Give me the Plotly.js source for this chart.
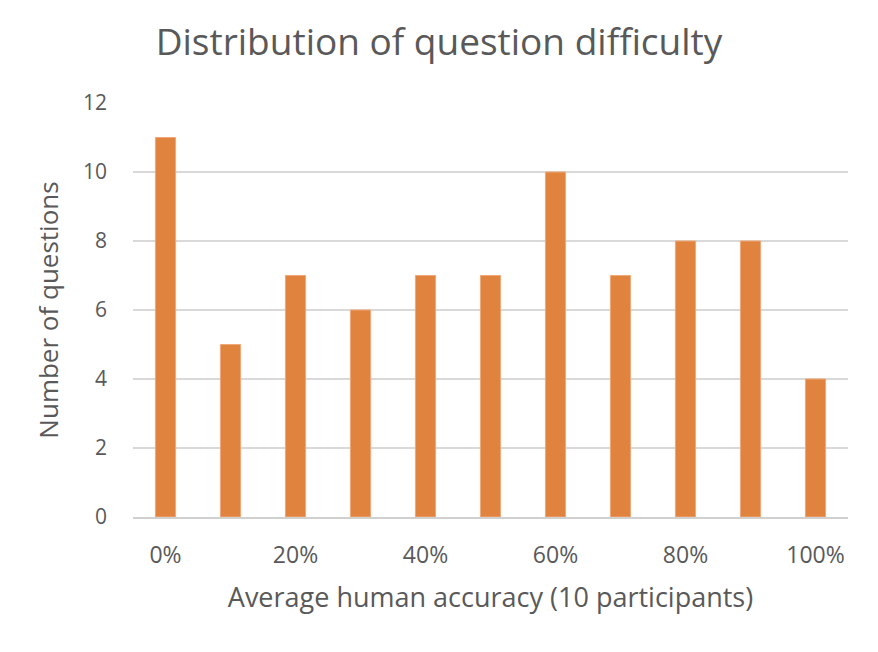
<!DOCTYPE html>
<html><head><meta charset="utf-8">
<script src="https://cdn.plot.ly/plotly-3.0.1.min.js"></script>
<style>html,body{margin:0;padding:0;background:#fff;}#chart{width:878px;height:652px;}</style>
</head><body><div id="chart"></div>
<script>
const categories = ["0%","10%","20%","30%","40%","50%","60%","70%","80%","90%","100%"];
const counts = [11,5,7,6,7,7,10,7,8,8,4];
const tickLabels = ["0%","20%","40%","60%","80%","100%"];
const yTicks = [0,2,4,6,8,10,12];

Plotly.newPlot('chart', [{
  type: 'bar', x: categories, y: counts,
  marker: {color: '#E0833F', line: {color: '#F0A878', width: 1}},
  width: 0.31, hoverinfo: 'x+y'
}], {
  width: 878, height: 652,
  paper_bgcolor: '#fff', plot_bgcolor: '#fff',
  margin: {l: 133, r: 30, t: 103, b: 135},
  font: {family: 'Open Sans, sans-serif', color: '#595959'},
  title: {text: 'Distribution of question difficulty', x: 0.5, xanchor: 'center', y: 0.935, yanchor: 'middle', font: {size: 37, color: '#595959'}},
  xaxis: {
    type: 'category', tickvals: tickLabels, ticktext: tickLabels,
    tickfont: {size: 23, color: '#595959'}, ticks: '', ticklen: 0,
    ticklabelstandoff: 17,
    showline: true, linecolor: '#D0D0D0', linewidth: 1.5,
    showgrid: false, zeroline: false,
    title: {text: 'Average human accuracy (10 participants)', font: {size: 27, color: '#595959'}, standoff: 19}
  },
  yaxis: {
    range: [0, 12], tickvals: yTicks, tickfont: {size: 21, color: '#595959'},
    showgrid: true, gridcolor: '#D9D9D9', gridwidth: 1.5, zeroline: false, showline: false,
    ticks: '', ticklabelstandoff: 25,
    title: {text: 'Number of questions', font: {size: 26, color: '#595959'}, standoff: 16}
  },
  showlegend: false
}, {displayModeBar: false, staticPlot: true});
</script></body></html>
